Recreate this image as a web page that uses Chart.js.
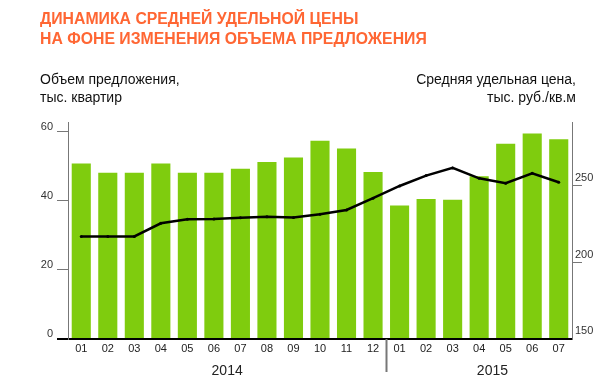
<!DOCTYPE html>
<html>
<head>
<meta charset="utf-8">
<script src="https://cdn.jsdelivr.net/npm/chart.js@4.4.0/dist/chart.umd.min.js"></script>
<style>
  html, body { margin: 0; padding: 0; background: #fff; }
  #wrap { position: relative; width: 600px; height: 387px; overflow: hidden; font-family: "Liberation Sans", Arial, sans-serif; }
  #c { position: absolute; left: 0; top: 0; }
  .title { position: absolute; left: 40px; top: 9px; color: #FF6633; font-weight: bold; font-size: 15.8px; line-height: 19.5px; white-space: nowrap; }
  .ltitle { position: absolute; left: 40px; top: 70px; color: #111; font-size: 14px; line-height: 18px; white-space: nowrap; }
  .rtitle { position: absolute; right: 24px; top: 70px; color: #111; font-size: 14px; line-height: 18px; white-space: nowrap; text-align: right; }
</style>
</head>
<body>
<div id="wrap">
  <canvas id="c" width="600" height="387"></canvas>
  <div class="title">ДИНАМИКА СРЕДНЕЙ УДЕЛЬНОЙ ЦЕНЫ<br>НА ФОНЕ ИЗМЕНЕНИЯ ОБЪЕМА ПРЕДЛОЖЕНИЯ</div>
  <div class="ltitle">Объем предложения,<br>тыс. квартир</div>
  <div class="rtitle">Средняя удельная цена,<br>тыс. руб./кв.м</div>
</div>
<script>
const months = ["01","02","03","04","05","06","07","08","09","10","11","12","01","02","03","04","05","06","07"];
const supply = [50.8, 48.1, 48.1, 50.8, 48.1, 48.1, 49.3, 51.2, 52.5, 57.4, 55.1, 48.3, 38.6, 40.5, 40.3, 47.1, 56.5, 59.5, 57.8];
const price  = [217, 217, 217, 225.6, 228.2, 228.4, 229.3, 229.9, 229.4, 231.5, 234.3, 242, 250, 256.8, 261.8, 255, 251.8, 258.3, 252.4];
const years = ["2014", "2015"];
const yearCenters = [5.5, 15.5];
const yearBreak = 11.5;
const leftTicks = [0, 20, 40, 60];
const rightTicks = [150, 200, 250];

const FONT = "'Liberation Sans', Arial, sans-serif";

const separatorPlugin = {
  id: 'separator',
  afterDraw(chart) {
    const ctx = chart.ctx;
    const x = Math.round(chart.scales.x2.getPixelForValue(yearBreak)) + 0.5;
    ctx.save();
    ctx.strokeStyle = '#777';
    ctx.lineWidth = 2;
    ctx.beginPath();
    ctx.moveTo(x, chart.chartArea.bottom);
    ctx.lineTo(x, chart.chartArea.bottom + 33);
    ctx.stroke();
    ctx.restore();
  }
};

new Chart(document.getElementById('c'), {
  data: {
    labels: months,
    datasets: [
      {
        type: 'line', label: 'price', data: price, yAxisID: 'yR', xAxisID: 'x',
        borderColor: '#000', borderWidth: 2.5, tension: 0,
        pointRadius: 1.5, pointBackgroundColor: '#000', pointBorderColor: '#000', pointBorderWidth: 0,
        order: 0
      },
      {
        type: 'bar', label: 'supply', data: supply, yAxisID: 'yL', xAxisID: 'x',
        backgroundColor: '#7FCC0E', borderWidth: 0,
        categoryPercentage: 1.0, barPercentage: 0.72,
        order: 1
      }
    ]
  },
  options: {
    responsive: false,
    animation: false,
    events: [],
    layout: { padding: { top: 122, left: 0, right: 0, bottom: 0 } },
    plugins: { legend: { display: false }, tooltip: { enabled: false }, title: { display: false } },
    scales: {
      x: {
        type: 'category', position: 'bottom', offset: true,
        grid: { display: false, drawTicks: false },
        border: { display: true, color: '#000', width: 2 },
        ticks: { color: '#222', font: { family: FONT, size: 11 }, padding: 3, maxRotation: 0, autoSkip: false },
        afterFit(s) { s.height = 20; }
      },
      x2: {
        type: 'linear', position: 'bottom', min: -0.5, max: 18.5,
        grid: { display: false, drawTicks: false },
        border: { display: false },
        afterBuildTicks(s) { s.ticks = yearCenters.map(v => ({ value: v })); },
        ticks: {
          color: '#222', font: { family: FONT, size: 14 }, padding: 4, maxRotation: 0, autoSkip: false,
          callback(v) { const i = yearCenters.indexOf(v); return i >= 0 ? years[i] : ''; }
        },
        afterFit(s) { s.height = 28; }
      },
      yL: {
        type: 'linear', position: 'left', min: 0, max: 62.8,
        afterBuildTicks(s) { s.ticks = leftTicks.map(v => ({ value: v })); },
        grid: {
          drawOnChartArea: false, drawTicks: true, tickLength: 11,
          color: c => (c.tick && c.tick.value === 0) ? '#000' : '#777',
          lineWidth: c => (c.tick && c.tick.value === 0) ? 2 : 1
        },
        border: { display: true, color: '#777', width: 1 },
        ticks: { color: '#333', font: { family: FONT, size: 11 }, padding: 4, labelOffset: -5 },
        afterFit(s) { s.width = 68; }
      },
      yR: {
        type: 'linear', position: 'right', min: 150, max: 291.8,
        afterBuildTicks(s) { s.ticks = rightTicks.map(v => ({ value: v })); },
        grid: {
          drawOnChartArea: false, drawTicks: true, tickLength: 10,
          color: c => (c.tick && c.tick.value === 150) ? 'rgba(0,0,0,0)' : '#777',
          lineWidth: 1
        },
        border: { display: true, color: '#777', width: 1 },
        ticks: { color: '#333', font: { family: FONT, size: 11 }, padding: -7, labelOffset: -8 },
        afterFit(s) { s.width = 28; }
      }
    }
  },
  plugins: [separatorPlugin]
});
</script>
</body>
</html>
